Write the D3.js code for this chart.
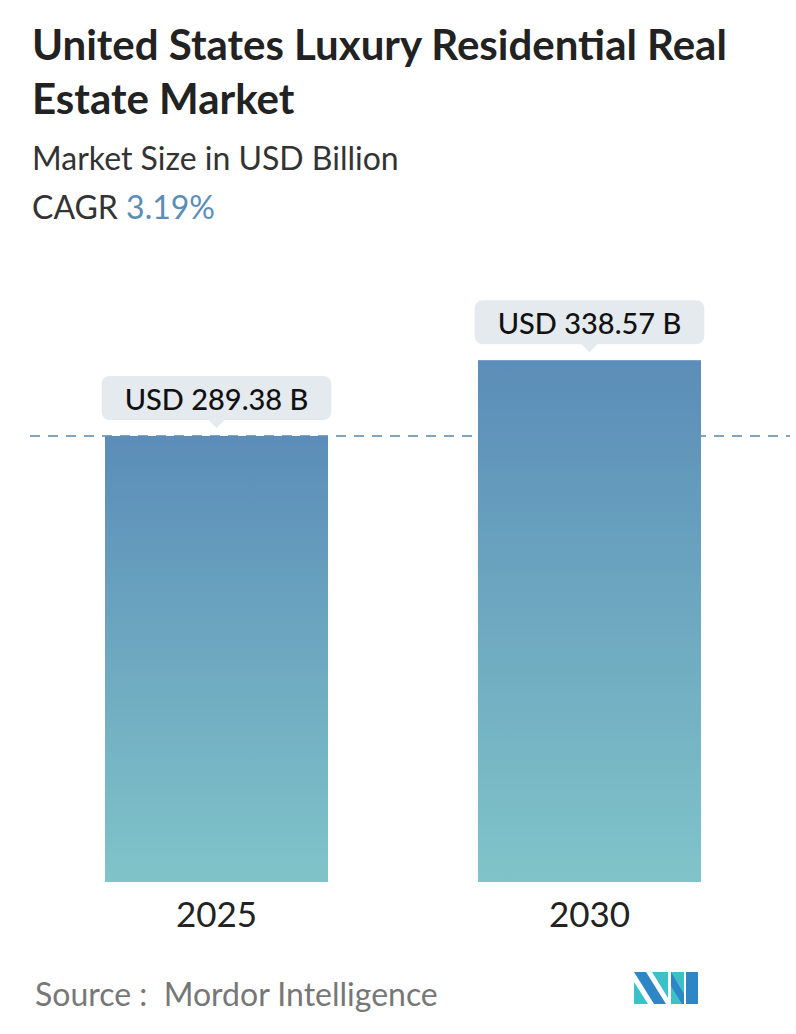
<!DOCTYPE html>
<html><head><meta charset="utf-8">
<script src="https://cdn.jsdelivr.net/npm/d3@7"></script>
<style>body{margin:0;background:#fff;font-family:Lato,"Open Sans",sans-serif}</style>
</head><body><div id="chart"></div>
<script>
var years = ['2025', '2030'];
var values = [289.38, 338.57];
var labels = ['USD 289.38 B', 'USD 338.57 B'];

var width = 796, height = 1034;
var svg = d3.select('#chart').append('svg').attr('width', width).attr('height', height);

var x = d3.scaleBand().domain(years).range([105, 701]).paddingInner(0.402).paddingOuter(0);
var y = d3.scaleLinear().domain([0, 289.38]).range([882, 436]);

var defs = svg.append('defs');
var grad = defs.append('linearGradient').attr('id', 'barGrad')
    .attr('x1', 0).attr('y1', 0).attr('x2', 0).attr('y2', 1);
grad.append('stop').attr('offset', '0%').attr('stop-color', '#5b8db8');
grad.append('stop').attr('offset', '100%').attr('stop-color', '#80c4c9');

// title
svg.append('text').attr('x', 32).attr('y', 60).style('font-size', '42px').style('font-weight', 700)
    .attr('fill', '#222').text('United States Luxury Residential Real');
svg.append('text').attr('x', 32).attr('y', 114).style('font-size', '42px').style('font-weight', 700)
    .attr('fill', '#222').text('Estate Market');
svg.append('text').attr('x', 32).attr('y', 170).style('font-size', '32px')
    .attr('fill', '#333').text('Market Size in USD Billion');
var cagr = svg.append('text').attr('x', 32).attr('y', 219).style('font-size', '32px').attr('fill', '#333');
cagr.append('tspan').text('CAGR ');
cagr.append('tspan').attr('fill', '#5b8db8').text('3.19%');

// dashed line at first value
svg.append('line').attr('x1', 30).attr('x2', 790)
    .attr('y1', y(values[0])).attr('y2', y(values[0]))
    .attr('stroke', '#5b86a8').attr('stroke-width', 1.5).attr('stroke-dasharray', '10,8');

// bars
svg.selectAll('.bar').data(values).join('rect')
    .attr('class', 'bar')
    .attr('x', (d, i) => x(years[i]))
    .attr('width', x.bandwidth())
    .attr('y', d => y(d))
    .attr('height', d => y(0) - y(d))
    .attr('fill', 'url(#barGrad)');

// value labels
values.forEach(function(v, i) {
    var cx = x(years[i]) + x.bandwidth() / 2;
    var top = y(v);
    var g = svg.append('g');
    var t = g.append('text').attr('x', cx).attr('y', top - 26).attr('text-anchor', 'middle')
        .style('font-size', '29px').style('font-weight', 500).attr('fill', '#111').text(labels[i]);
    var w = t.node().getComputedTextLength() + 46;
    g.insert('rect', 'text').attr('x', cx - w / 2).attr('y', top - 60).attr('width', w).attr('height', 44)
        .attr('rx', 8).attr('fill', '#e4eaee');
    g.insert('path', 'text').attr('d', 'M' + (cx - 9) + ',' + (top - 17) + 'L' + cx + ',' + (top - 8) + 'L' + (cx + 9) + ',' + (top - 17) + 'Z')
        .attr('fill', '#e4eaee');
});

// x axis labels
svg.selectAll('.year').data(years).join('text')
    .attr('x', d => x(d) + x.bandwidth() / 2).attr('y', 927)
    .attr('text-anchor', 'middle').style('font-size', '35px').attr('fill', '#222').text(d => d);

// source
svg.append('text').attr('x', 35).attr('y', 1006).style('font-size', '32px').attr('fill', '#777')
    .attr('xml:space', 'preserve').text('Source :  Mordor Intelligence');

// logo
var lg = svg.append('g').attr('transform', 'translate(634,972)');
lg.append('path').attr('d', 'M0,0 L12,0 L32,32 L20,32 Z').attr('fill', '#2f86c6');
lg.append('path').attr('d', 'M0,10 L14,32 L0,32 Z').attr('fill', '#3cc1c9');
lg.append('path').attr('d', 'M18,0 L34,0 L34,26 Z').attr('fill', '#3cc1c9');
lg.append('path').attr('d', 'M37,0 L50,0 L50,32 L37,32 Z').attr('fill', '#3cc1c9');
lg.append('path').attr('d', 'M37,0 L50,22 L50,32 L48,32 L37,14 Z').attr('fill', '#2f86c6');
lg.append('path').attr('d', 'M52,0 L64,0 L64,32 L52,32 Z').attr('fill', '#2f86c6');
</script></body></html>
